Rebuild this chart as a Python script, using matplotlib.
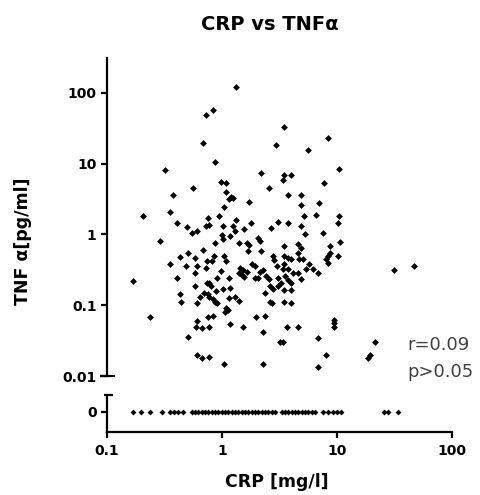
import numpy as np
import matplotlib
matplotlib.use("Agg")
import matplotlib.pyplot as plt

plt.rcParams['font.family'] = ['DejaVu Sans']

# ---- data ----
# CRP [mg/l] and TNF-alpha [pg/ml] for patients with measurable TNF
crp = [1.32, 0.835, 0.726, 3.46, 8.35, 0.684, 2.95, 5.60, 0.869, 0.319,
       10.4, 2.18, 3.46, 3.98, 3.39, 0.980, 1.08, 7.71, 0.560, 2.57,
       1.08, 0.375, 3.75, 4.86, 1.20, 1.25, 1.15, 1.72, 6.97, 4.86,
       1.04, 0.353, 6.56, 0.206, 0.942, 5.16, 10.4, 0.755, 1.32, 0.406,
       1.79, 3.07, 3.75, 10.2, 0.726, 0.771, 1.02, 1.25, 4.86, 0.496,
       2.67, 1.55, 1.30, 0.606, 0.548, 7.55, 5.27, 1.00, 1.17, 2.06,
       1.02, 2.14, 0.289, 10.6, 0.869, 1.41, 1.65, 1.72, 4.58, 3.46,
       8.69, 4.86, 0.684, 1.68, 2.18, 0.506, 4.58, 8.69, 0.431, 0.851,
       1.04, 2.78, 3.46, 8.35, 10.2, 0.582, 3.75, 4.68, 5.06, 3.98,
       8.02, 0.741, 0.819, 1.08, 2.83, 8.35, 0.353, 5.71, 3.46, 1.82,
       0.486, 0.606, 1.94, 3.01, 1.44, 0.726, 46.8, 5.37, 6.18, 3.39,
       3.75, 2.28, 1.52, 31.3, 0.980, 1.65, 2.14, 0.582, 1.41, 4.58,
       6.84, 4.14, 1.49, 3.53, 1.55, 0.406, 0.905, 1.15, 1.94, 2.06,
       2.42, 3.07, 2.57, 4.86, 3.75, 0.168, 0.741, 0.771, 3.26, 3.98,
       0.582, 0.802, 2.61, 3.07, 1.17, 1.02, 2.78, 0.887, 3.46, 3.98,
       2.37, 0.431, 0.697, 0.755, 0.771, 0.644, 1.30, 1.15, 0.835, 0.869,
       0.905, 1.41, 2.61, 2.72, 3.46, 3.98, 0.440, 0.606, 1.08, 1.13,
       1.06, 0.237, 0.755, 0.835, 1.98, 2.37, 0.606, 9.42, 9.42, 1.17,
       0.594, 0.670, 0.771, 1.52, 3.67, 4.58, 9.42, 2.28, 0.506, 6.84,
       3.19, 3.39, 21.4, 0.606, 0.670, 0.771, 8.02, 19.4, 18.6, 1.04,
       2.28, 6.84]
tnf = [122, 57.5, 48.9, 33.1, 23.1, 19.6, 18.4, 15.6, 10.6, 8.16,
       8.43, 7.40, 6.93, 6.93, 5.89, 5.52, 5.35, 5.35, 4.54, 4.54,
       3.99, 3.61, 3.61, 3.61, 3.39, 3.28, 3.18, 2.88, 2.79, 2.61,
       2.45, 2.08, 1.89, 1.83, 1.83, 1.83, 1.83, 1.71, 1.60, 1.45,
       1.45, 1.50, 1.45, 1.45, 1.32, 1.36, 1.32, 1.32, 1.32, 1.28,
       1.24, 1.20, 1.12, 1.12, 1.05, 1.05, 1.02, 0.984, 0.953, 0.893,
       0.864, 0.809, 0.809, 0.783, 0.759, 0.759, 0.759, 0.711, 0.734, 0.688,
       0.688, 0.645, 0.604, 0.585, 0.585, 0.548, 0.548, 0.548, 0.481, 0.497,
       0.497, 0.497, 0.497, 0.497, 0.497, 0.466, 0.466, 0.451, 0.451, 0.451,
       0.451, 0.422, 0.422, 0.422, 0.436, 0.395, 0.383, 0.383, 0.383, 0.383,
       0.359, 0.359, 0.359, 0.359, 0.336, 0.336, 0.359, 0.325, 0.325, 0.325,
       0.325, 0.315, 0.315, 0.315, 0.305, 0.295, 0.295, 0.286, 0.286, 0.286,
       0.286, 0.286, 0.268, 0.259, 0.251, 0.243, 0.243, 0.243, 0.243, 0.243,
       0.259, 0.243, 0.235, 0.235, 0.228, 0.220, 0.206, 0.206, 0.206, 0.206,
       0.187, 0.187, 0.187, 0.187, 0.175, 0.170, 0.170, 0.159, 0.164, 0.164,
       0.149, 0.144, 0.149, 0.144, 0.131, 0.131, 0.131, 0.127, 0.123, 0.111,
       0.108, 0.115, 0.111, 0.108, 0.111, 0.108, 0.111, 0.108, 0.0914, 0.0857,
       0.0803, 0.0682, 0.0682, 0.0705, 0.0682, 0.0705, 0.0599, 0.0619, 0.0561, 0.0543,
       0.0493, 0.0477, 0.0493, 0.0493, 0.0493, 0.0493, 0.0493, 0.0419, 0.0356, 0.0344,
       0.0303, 0.0303, 0.0303, 0.0198, 0.0180, 0.0186, 0.0198, 0.0198, 0.0180, 0.0148,
       0.0148, 0.0134]

# CRP of patients with TNF-alpha = 0 (bottom strip)
crp_zero = [0.167, 0.198, 0.237, 0.299, 0.353, 0.383, 0.417, 0.461, 0.545, 0.582,
            0.622, 0.666, 0.711, 0.760, 0.813, 0.869, 0.929, 0.993, 1.062, 1.135,
            1.214, 1.297, 1.387, 1.483, 1.585, 1.694, 1.812, 1.936, 2.07, 2.213,
            2.366, 2.529, 2.70, 2.89, 3.30, 3.53, 3.77, 4.03, 4.31, 4.61,
            4.93, 5.27, 5.63, 6.02, 6.44, 7.61, 8.40, 9.29, 10.07, 10.8,
            25.6, 27.9, 33.7]

x_ticks = [0.1, 1, 10, 100]
x_ticklabels = ['0.1', '1', '10', '100']
y_ticks = [0.01, 0.1, 1, 10, 100]
y_ticklabels = ['0.01', '0.1', '1', '10', '100']

# ---- figure ----
fig = plt.figure(figsize=(4.8, 4.95), dpi=100)
ax = fig.add_axes([0.2229, 0.2404, 0.71875, 0.6424])
axb = fig.add_axes([0.2229, 0.1273, 0.71875, 0.0747])

lw = 1.6
tick_kw = dict(length=4, width=lw, direction='out', labelsize=10)

# main panel
ax.scatter(crp, tnf, marker='D', s=12, c='black', linewidths=0)
ax.set_xscale('log')
ax.set_yscale('log')
ax.set_xlim(0.1, 100)
ax.set_ylim(0.01, 310)
for s in ['top', 'right', 'bottom']:
    ax.spines[s].set_visible(False)
ax.spines['left'].set_linewidth(lw)
ax.set_xticks([])
ax.minorticks_off()
ax.set_yticks(y_ticks)
ax.set_yticklabels(y_ticklabels, fontweight='bold')
ax.tick_params(axis='y', which='minor', left=False)
ax.tick_params(axis='y', **tick_kw)
# axis break cap at the bottom of the main axis
ax.plot([-0.02, 0.024], [0, 0], transform=ax.transAxes, color='black',
        lw=lw, clip_on=False, solid_capstyle='butt')

ax.set_ylabel('TNF α[pg/ml]', fontsize=12.5, fontweight='bold')
ax.yaxis.set_label_coords(-0.218, 0.425)
ax.set_title('CRP vs TNFα', fontsize=14, fontweight='bold', x=0.472, pad=20)

ax.text(0.870, 0.082, 'r=0.09', transform=ax.transAxes, fontsize=13,
        color='#404040', ha='left', va='baseline')
ax.text(0.870, -0.003, 'p>0.05', transform=ax.transAxes, fontsize=13,
        color='#404040', ha='left', va='baseline')

# zero strip
axb.scatter(crp_zero, np.zeros(len(crp_zero)), marker='D', s=9, c='black',
            linewidths=0)
axb.set_xscale('log')
axb.set_xlim(0.1, 100)
axb.set_ylim(-1.2, 1.0)
for s in ['top', 'right']:
    axb.spines[s].set_visible(False)
axb.spines['left'].set_linewidth(lw)
axb.spines['bottom'].set_linewidth(lw)
axb.minorticks_off()
axb.set_xticks(x_ticks)
axb.set_xticklabels(x_ticklabels, fontweight='bold')
axb.set_yticks([0])
axb.set_yticklabels(['0'], fontweight='bold')
axb.tick_params(axis='both', **tick_kw)
axb.tick_params(axis='x', pad=5)
axb.plot([-0.01, 0.016], [1, 1], transform=axb.transAxes, color='black',
         lw=lw, clip_on=False, solid_capstyle='butt')
axb.set_xlabel('CRP [mg/l]', fontsize=12.5, fontweight='bold')
axb.xaxis.set_label_coords(0.493, -1.1)

fig.savefig('out.png', dpi=100)
